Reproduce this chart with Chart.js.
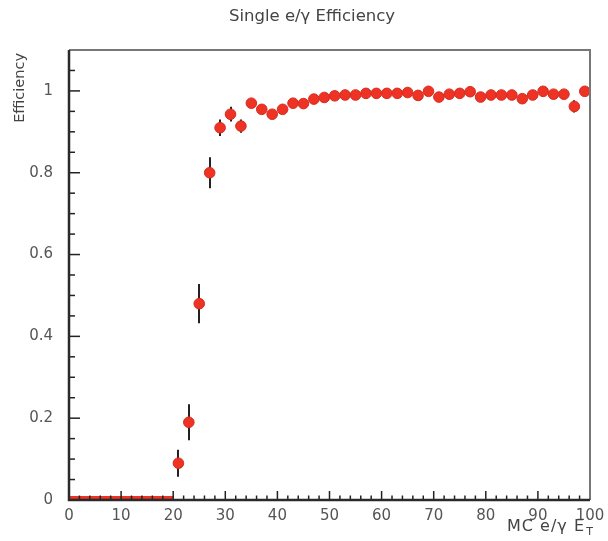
<!DOCTYPE html>
<html>
<head>
<meta charset="utf-8">
<title>Single e/γ Efficiency</title>
<script src="https://cdn.jsdelivr.net/npm/chart.js@4/dist/chart.umd.min.js"></script>
<style>
  html, body { margin: 0; padding: 0; background: #fff; }
  #wrap { width: 608px; height: 541px; }
</style>
</head>
<body>
<div id="wrap"><canvas id="grafico"></canvas></div>
<script>
/* ------------ datos ------------ */
const binCenters = [1, 3, 5, 7, 9, 11, 13, 15, 17, 19,
  21, 23, 25, 27, 29, 31, 33, 35, 37, 39,
  41, 43, 45, 47, 49, 51, 53, 55, 57, 59,
  61, 63, 65, 67, 69, 71, 73, 75, 77, 79,
  81, 83, 85, 87, 89, 91, 93, 95, 97, 99];

const efficiency = [0, 0, 0, 0, 0, 0, 0, 0, 0, 0,
  0.09, 0.19, 0.48, 0.80, 0.91, 0.943, 0.914, 0.970, 0.955, 0.943,
  0.955, 0.970, 0.969, 0.980, 0.984, 0.988, 0.990, 0.990, 0.994, 0.994,
  0.994, 0.994, 0.996, 0.989, 0.999, 0.985, 0.992, 0.994, 0.998, 0.985,
  0.990, 0.990, 0.990, 0.981, 0.990, 0.999, 0.992, 0.992, 0.962, 0.999];

const effError = [0, 0, 0, 0, 0, 0, 0, 0, 0, 0,
  0.033, 0.044, 0.048, 0.038, 0.020, 0.018, 0.016, 0.011, 0.010, 0.010,
  0.009, 0.008, 0.007, 0.006, 0.005, 0.005, 0.005, 0.004, 0.004, 0.004,
  0.004, 0.004, 0.004, 0.004, 0.003, 0.004, 0.004, 0.004, 0.003, 0.004,
  0.004, 0.004, 0.004, 0.005, 0.004, 0.003, 0.004, 0.004, 0.015, 0.003];

const xTickLabels = [0, 10, 20, 30, 40, 50, 60, 70, 80, 90, 100];
const yTickLabels = [0, 0.2, 0.4, 0.6, 0.8, 1];

const FONT = "'DejaVu Sans', Verdana, sans-serif";
const ROJO = "#ee3224";

// puntos normales y bins vacíos (se ven como franja roja sobre el eje)
const puntos = [];
const vacios = [];
binCenters.forEach((x, i) => {
  if (efficiency[i] > 0) puntos.push({ x: x, y: efficiency[i] });
  else vacios.push({ x: x, y: 0 });
});

/* ------------ plugin: barras de error, ticks internos, marco, textos ------------ */
const estiloRoot = {
  id: "estiloRoot",
  beforeDatasetsDraw(chart) {
    const { ctx, scales: { x, y } } = chart;
    ctx.save();
    ctx.strokeStyle = "#222";
    ctx.lineWidth = 2;
    binCenters.forEach((c, i) => {
      const e = effError[i];
      if (!e) return;
      const px = Math.round(x.getPixelForValue(c));
      ctx.beginPath();
      ctx.moveTo(px, y.getPixelForValue(efficiency[i] - e));
      ctx.lineTo(px, y.getPixelForValue(efficiency[i] + e));
      ctx.stroke();
    });
    ctx.restore();
  },
  afterDatasetsDraw(chart) {
    const { ctx, chartArea: a, scales: { x, y } } = chart;
    ctx.save();
    ctx.strokeStyle = "#222";
    ctx.lineWidth = 1.5;

    // ticks eje X (hacia adentro), cada 2 unidades
    for (let v = 0; v <= 100; v += 2) {
      const px = x.getPixelForValue(v);
      const len = v % 10 === 0 ? 9 : 4.5;
      ctx.beginPath();
      ctx.moveTo(px, a.bottom);
      ctx.lineTo(px, a.bottom - len);
      ctx.stroke();
    }
    // ticks eje Y, cada 0.05
    for (let k = 0; k <= 21; k++) {
      const v = k * 0.05;
      const py = y.getPixelForValue(v);
      const len = k % 4 === 0 ? 11 : 6;
      ctx.beginPath();
      ctx.moveTo(a.left, py);
      ctx.lineTo(a.left + len, py);
      ctx.stroke();
    }

    // marco
    ctx.strokeStyle = "#777";
    ctx.lineWidth = 2;
    ctx.beginPath();
    ctx.moveTo(a.left, a.top);
    ctx.lineTo(a.right, a.top);
    ctx.lineTo(a.right, a.bottom);
    ctx.stroke();
    ctx.strokeStyle = "#2a2a2a";
    ctx.lineWidth = 2.5;
    ctx.beginPath();
    ctx.moveTo(a.left, a.top);
    ctx.lineTo(a.left, a.bottom);
    ctx.lineTo(a.right, a.bottom);
    ctx.stroke();
    ctx.restore();
  },
  afterDraw(chart) {
    const { ctx, chartArea: a } = chart;
    ctx.save();
    ctx.fillStyle = "#444";

    // título
    ctx.font = "16.5px " + FONT;
    ctx.textAlign = "center";
    ctx.textBaseline = "middle";
    ctx.fillText("Single e/γ Efficiency", 312, 17);

    // título eje Y
    ctx.save();
    ctx.translate(20, a.top + 3);
    ctx.rotate(-Math.PI / 2);
    ctx.font = "14.5px " + FONT;
    ctx.textAlign = "right";
    ctx.textBaseline = "middle";
    ctx.fillText("Efficiency", 0, 0);
    ctx.restore();

    // título eje X con subíndice
    ctx.textBaseline = "alphabetic";
    ctx.textAlign = "right";
    ctx.font = "11px " + FONT;
    ctx.fillText("T", 593, 535);
    ctx.font = "16px " + FONT;
    ctx.letterSpacing = "1px";
    ctx.fillText("MC e/γ E", 585, 531);
    ctx.restore();
  }
};

/* ------------ gráfico ------------ */
function generarGrafico() {
  const ctx = document.getElementById("grafico");

  new Chart(ctx, {
    type: "scatter",
    data: {
      datasets: [
        {
          label: "Efficiency",
          data: puntos,
          backgroundColor: ROJO,
          borderColor: "#d52a1f",
          borderWidth: 1,
          pointRadius: 5.3
        },
        {
          label: "vacíos",
          data: vacios,
          pointStyle: "line",
          borderColor: ROJO,
          borderWidth: 8,
          pointRadius: 5.3,
          clip: 0
        }
      ]
    },
    plugins: [estiloRoot],
    options: {
      responsive: true,
      maintainAspectRatio: false,
      animation: false,
      events: [],
      layout: { padding: { top: 50, right: 18, left: 10, bottom: 0 } },
      plugins: {
        legend: { display: false },
        tooltip: { enabled: false }
      },
      scales: {
        x: {
          type: "linear",
          min: 0,
          max: 100,
          grid: { display: false, drawTicks: false, tickLength: 0 },
          border: { display: false },
          afterBuildTicks: s => { s.ticks = xTickLabels.map(v => ({ value: v })); },
          afterFit: s => { s.height = 41; s.paddingLeft = 0; s.paddingRight = 0; },
          ticks: {
            padding: 7,
            color: "#555",
            font: { family: FONT, size: 15 },
            maxRotation: 0,
            callback: v => String(v)
          }
        },
        y: {
          min: 0,
          max: 1.1,
          grid: { display: false, drawTicks: false, tickLength: 0 },
          border: { display: false },
          afterBuildTicks: s => { s.ticks = yTickLabels.map(v => ({ value: v })); },
          afterFit: s => { s.width = 59; s.paddingTop = 0; s.paddingBottom = 0; },
          ticks: {
            padding: 16,
            color: "#555",
            font: { family: FONT, size: 15 },
            callback: v => String(+v.toFixed(1))
          }
        }
      }
    }
  });
}

document.addEventListener("DOMContentLoaded", generarGrafico);
</script>
</body>
</html>
